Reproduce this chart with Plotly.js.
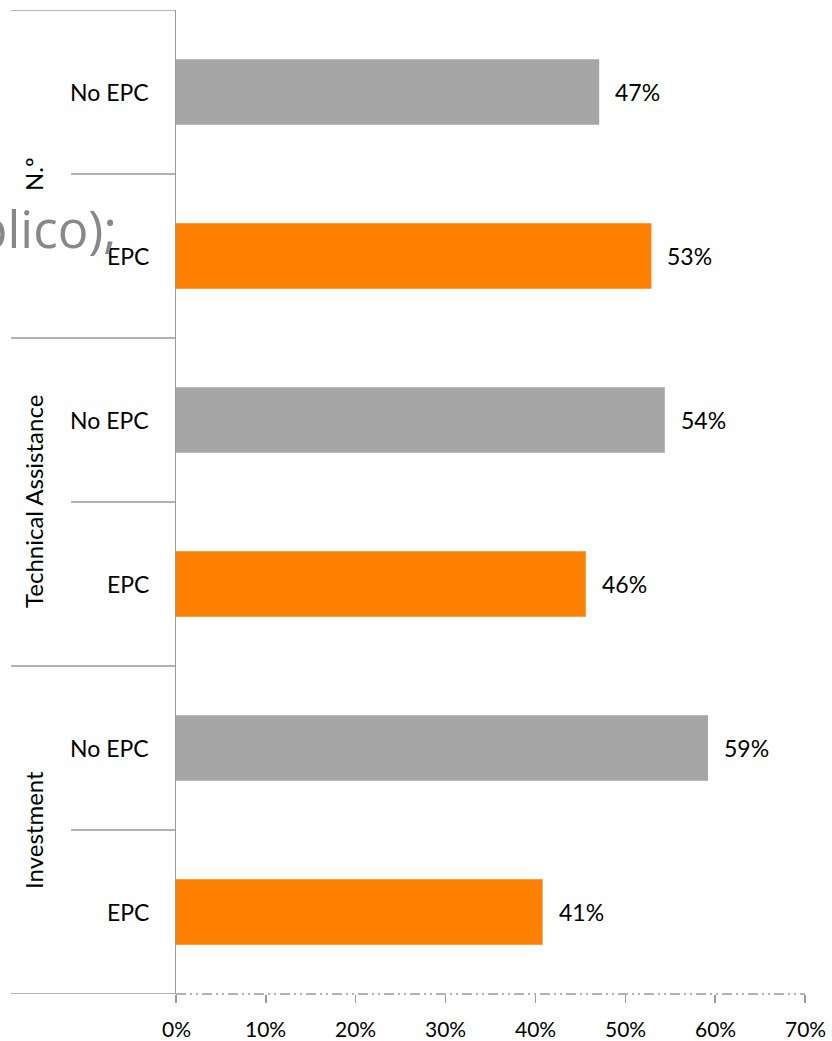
<!DOCTYPE html>
<html>
<head>
<meta charset="utf-8">
<script src="https://cdn.plot.ly/plotly-3.0.1.min.js"></script>
<style>html,body{margin:0;padding:0;background:#fff;}#chart{width:832px;height:1041px;}</style>
</head>
<body>
<div id="chart"></div>
<script>
const groups = ["N.º", "Technical Assistance", "Investment"];
const labels = ["No EPC", "EPC", "No EPC", "EPC", "No EPC", "EPC"];
const values = [0.471, 0.529, 0.544, 0.456, 0.592, 0.408];
const colors = ["#a6a6a6", "#ff7f00", "#a6a6a6", "#ff7f00", "#a6a6a6", "#ff7f00"];
const xTicks = [0, 0.1, 0.2, 0.3, 0.4, 0.5, 0.6, 0.7];
const xTickText = ["0%", "10%", "20%", "30%", "40%", "50%", "60%", "70%"];
const overlayText = "úblico);";

const FONT = "Lato, 'Open Sans', sans-serif";
const pos = labels.map((_, i) => i);
const plotW = 832 - 176 - 27;
const px = p => p / plotW;
const lineCol = "#9a9a9a";

const trace = {
  type: "bar",
  orientation: "h",
  x: values,
  y: pos,
  width: 0.4,
  marker: {color: colors},
  hoverinfo: "none"
};

const shapes = [];
// outer group separators
[-0.5, 1.5, 3.5, 5.5].forEach(v => shapes.push({
  type: "line", xref: "paper", yref: "y", x0: px(11 - 176), x1: 0, y0: v, y1: v,
  line: {color: lineCol, width: 1.5}
}));
// inner separators
[0.5, 2.5, 4.5].forEach(v => shapes.push({
  type: "line", xref: "paper", yref: "y", x0: px(71 - 176), x1: 0, y0: v, y1: v,
  line: {color: lineCol, width: 1.5}
}));
// dash-dot-dot x axis line
shapes.push({
  type: "line", xref: "x", yref: "paper", x0: 0, x1: 0.7, y0: 0, y1: 0,
  line: {color: lineCol, width: 1.5, dash: "10px,4px,2px,4px,2px,4px"}
});

const annotations = [];
labels.forEach((t, i) => annotations.push({
  xref: "paper", yref: "y", x: 0, y: pos[i], xanchor: "right", yanchor: "middle",
  xshift: -25, text: t, showarrow: false, font: {family: FONT, size: 23, color: "#000"}
}));
groups.forEach((g, i) => annotations.push({
  xref: "paper", yref: "y", x: px(33 - 176), y: 2 * i + 0.5, xanchor: "center", yanchor: "middle",
  text: g, textangle: -90, showarrow: false, font: {family: FONT, size: 24, color: "#000"}
}));
values.forEach((v, i) => annotations.push({
  xref: "x", yref: "y", x: v, y: pos[i], xanchor: "left", yanchor: "middle",
  xshift: 14, text: Math.round(v * 100) + "%", showarrow: false,
  font: {family: FONT, size: 23, color: "#000"}
}));
xTicks.forEach((t, i) => annotations.push({
  xref: "x", yref: "paper", x: t, y: 0, xanchor: "center", yanchor: "top",
  yshift: -21, borderpad: 0, text: xTickText[i], showarrow: false,
  font: {family: FONT, size: 21, color: "#000"}
}));
annotations.push({
  xref: "paper", yref: "paper", x: px(119 - 176), y: 1 - (228 - 10) / 984,
  xanchor: "right", yanchor: "middle", text: overlayText, showarrow: false,
  font: {family: "'Open Sans', sans-serif", size: 51, color: "#888888"}
});

const layout = {
  width: 832, height: 1041,
  margin: {l: 176, r: 27, t: 10, b: 47, pad: 0},
  paper_bgcolor: "#fff", plot_bgcolor: "#fff",
  showlegend: false,
  xaxis: {
    range: [0, 0.7], tickvals: xTicks, showticklabels: false,
    showgrid: false, zeroline: false, showline: false,
    ticks: "outside", ticklen: 8, tickcolor: lineCol, tickwidth: 1.5
  },
  yaxis: {
    range: [5.5, -0.5], showgrid: false, zeroline: false,
    showline: true, linecolor: lineCol, linewidth: 1.5,
    showticklabels: false, ticks: ""
  },
  shapes: shapes,
  annotations: annotations
};

Plotly.newPlot("chart", [trace], layout, {staticPlot: true, displayModeBar: false});
</script>
</body>
</html>
